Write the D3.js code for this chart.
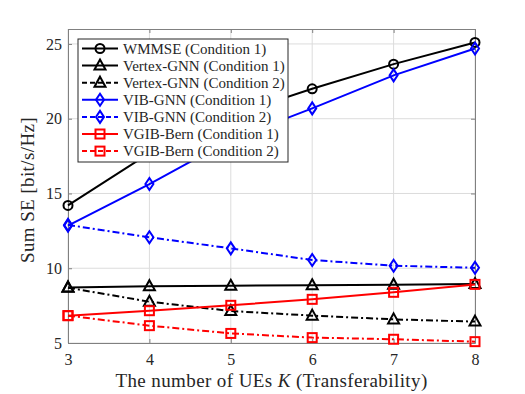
<!DOCTYPE html>
<html>
<head>
<meta charset="utf-8">
<script src="https://cdn.jsdelivr.net/npm/d3@7"></script>
<style>
body { margin: 0; background: #fff; }
svg text { font-family: "Liberation Serif", "DejaVu Serif", "Noto Serif", serif; fill: #262626; }
</style>
</head>
<body>
<script>
// data
var users = [3, 4, 5, 6, 7, 8];
var wmmse = [14.2, 17.7, 20.2, 22.0, 23.65, 25.1];
var vertexC1 = [8.72, 8.8, 8.83, 8.86, 8.9, 8.94];
var vertexC2 = [8.7, 7.76, 7.14, 6.83, 6.58, 6.43];
var vibC1 = [12.85, 15.63, 18.6, 20.69, 22.9, 24.7];
var vibC2 = [12.9, 12.07, 11.33, 10.55, 10.17, 10.03];
var vgibC1 = [6.83, 7.16, 7.52, 7.92, 8.39, 8.92];
var vgibC2 = [6.83, 6.16, 5.64, 5.36, 5.25, 5.09];
var yTicks = [5, 10, 15, 20, 25];

var series = [
  {name: "WMMSE (Condition 1)", values: wmmse, color: "#000", dash: null, marker: "circle"},
  {name: "Vertex-GNN (Condition 1)", values: vertexC1, color: "#000", dash: null, marker: "triangle"},
  {name: "Vertex-GNN (Condition 2)", values: vertexC2, color: "#000", dash: "7,3,2,3", marker: "triangle"},
  {name: "VIB-GNN (Condition 1)", values: vibC1, color: "#0000ff", dash: null, marker: "diamond"},
  {name: "VIB-GNN (Condition 2)", values: vibC2, color: "#0000ff", dash: "7,3,2,3", marker: "diamond"},
  {name: "VGIB-Bern (Condition 1)", values: vgibC1, color: "#ff0000", dash: null, marker: "square"},
  {name: "VGIB-Bern (Condition 2)", values: vgibC2, color: "#ff0000", dash: "7,3,2,3", marker: "square"}
];

var W = 525, H = 394;
var margin = {top: 29, right: 50, bottom: 51, left: 68};
var width = W - margin.left - margin.right,
    height = H - margin.top - margin.bottom;
var serif = "'Liberation Serif', 'DejaVu Serif', 'Noto Serif', serif";

var svg = d3.select("body").append("svg")
    .attr("width", W)
    .attr("height", H);

var g = svg.append("g")
    .attr("transform", "translate(" + margin.left + "," + margin.top + ")");

var x = d3.scaleLinear().domain([3, 8]).range([0, width]);
var y = d3.scaleLinear().domain([5, 26]).range([height, 0]);

//grid
g.append("g").selectAll("line")
    .data(users).enter().append("line")
      .attr("x1", function(d) { return x(d); })
      .attr("x2", function(d) { return x(d); })
      .attr("y1", 0).attr("y2", height)
      .attr("stroke", "#dcdcdc").attr("stroke-width", 1);
g.append("g").selectAll("line")
    .data(yTicks).enter().append("line")
      .attr("x1", 0).attr("x2", width)
      .attr("y1", function(d) { return y(d); })
      .attr("y2", function(d) { return y(d); })
      .attr("stroke", "#dcdcdc").attr("stroke-width", 1);

//axes with inward ticks
var xAxis = g.append("g")
    .attr("transform", "translate(0," + height + ")")
    .call(d3.axisBottom(x).tickValues(users).tickFormat(d3.format("d")).tickSizeInner(-4).tickSizeOuter(0).tickPadding(11));
var xTop = g.append("g")
    .call(d3.axisTop(x).tickValues(users).tickSizeInner(-4).tickSizeOuter(0).tickFormat(""));
var yAxis = g.append("g")
    .call(d3.axisLeft(y).tickValues(yTicks).tickSizeInner(-4).tickSizeOuter(0).tickPadding(6));
var yRight = g.append("g")
    .attr("transform", "translate(" + width + ",0)")
    .call(d3.axisRight(y).tickValues(yTicks).tickSizeInner(-4).tickSizeOuter(0).tickFormat(""));

[xAxis, xTop, yAxis, yRight].forEach(function(a) {
  a.attr("font-family", serif);
  a.select(".domain").attr("stroke", "#808080").attr("stroke-width", 1);
  a.selectAll(".tick line").attr("stroke", "#808080");
  a.selectAll("text").style("font-size", "16px").attr("fill", "#262626");
});

//markers
function drawMarker(sel, type, color) {
  if (type === "circle") {
    sel.append("circle").attr("r", 4.5);
  } else if (type === "triangle") {
    sel.append("path").attr("d", "M0,-6L5.5,4L-5.5,4Z");
  } else if (type === "diamond") {
    sel.append("path").attr("d", "M0,-6L4,0L0,6L-4,0Z");
  } else {
    sel.append("rect").attr("x", -4.5).attr("y", -4.5).attr("width", 9).attr("height", 9);
  }
  sel.selectAll("*").attr("fill", "none").attr("stroke", color).attr("stroke-width", 2);
}

var line = d3.line()
    .x(function(d, i) { return x(users[i]); })
    .y(function(d) { return y(d); });

series.forEach(function(s) {
  g.append("path")
      .datum(s.values)
      .attr("d", line)
      .attr("fill", "none")
      .attr("stroke", s.color)
      .attr("stroke-width", 2)
      .attr("stroke-dasharray", s.dash);
  g.append("g").selectAll("g")
      .data(s.values).enter().append("g")
      .attr("transform", function(d, i) { return "translate(" + x(users[i]) + "," + y(d) + ")"; })
      .each(function() { drawMarker(d3.select(this), s.marker, s.color); });
});

//legend
var legend = svg.append("g").attr("transform", "translate(78,39)");
legend.append("rect")
    .attr("width", 210).attr("height", 123)
    .attr("fill", "#fff").attr("stroke", "#262626").attr("stroke-width", 1);
var rowH = 17.1;
var items = legend.selectAll(".item")
    .data(series).enter().append("g")
      .attr("transform", function(d, i) { return "translate(0," + (9.5 + i * rowH) + ")"; });
items.append("line")
    .attr("x1", 4).attr("x2", 40)
    .attr("stroke", function(d) { return d.color; })
    .attr("stroke-width", 2)
    .attr("stroke-dasharray", function(d) { return d.dash ? "5,3" : null; });
items.each(function(d) {
  var m = d3.select(this).append("g").attr("transform", "translate(22,0)");
  drawMarker(m, d.marker, d.color);
});
items.append("text")
    .attr("x", 45).attr("y", 5)
    .style("font-size", "15px")
    .text(function(d) { return d.name; });

//axis labels
svg.append("text")
    .attr("x", margin.left + width / 2).attr("y", 387)
    .attr("text-anchor", "middle")
    .style("font-size", "19px")
    .style("letter-spacing", "0.4px")
    .html("The number of UEs <tspan font-style='italic'>K</tspan> (Transferability)");

svg.append("text")
    .attr("transform", "translate(34," + (margin.top + height / 2 + 4) + ") rotate(-90)")
    .attr("text-anchor", "middle")
    .style("font-size", "19px")
    .style("letter-spacing", "0.4px")
    .text("Sum SE [bit/s/Hz]");
</script>
</body>
</html>
